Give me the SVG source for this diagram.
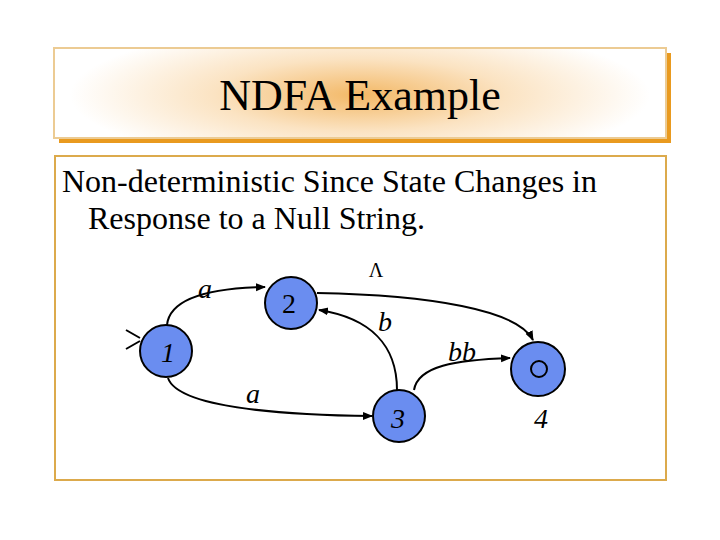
<svg xmlns="http://www.w3.org/2000/svg" width="720" height="540" viewBox="0 0 720 540">
<defs>
<radialGradient id="tg" cx="360" cy="95" r="290" gradientUnits="userSpaceOnUse" gradientTransform="translate(360 95) scale(1 0.25) translate(-360 -95)">
<stop offset="0" stop-color="#f3b866"/>
<stop offset="0.5" stop-color="#fbe3c2"/>
<stop offset="1" stop-color="#ffffff"/>
</radialGradient>
<marker id="ah" viewBox="0 0 10 10" refX="9" refY="5" markerWidth="5" markerHeight="5" orient="auto" markerUnits="strokeWidth">
<path d="M0,1 L10,5 L0,9 z" fill="#000"/>
</marker>
<style>
.edge{fill:none;stroke:#000;stroke-width:2;marker-end:url(#ah)}
.node{fill:#6a8df0;stroke:#000;stroke-width:2}
.lbl{font-family:"Liberation Serif",serif;font-style:italic;font-size:28px;fill:#000;text-anchor:middle}
.body{font-family:"Liberation Serif",serif;font-size:32px;fill:#000}
</style>
</defs>
<rect x="0" y="0" width="720" height="540" fill="#fff"/>
<g id="title">
<rect x="59" y="53" width="612" height="90" fill="#e99a1f"/>
<rect x="54" y="48" width="612" height="90" fill="url(#tg)" stroke="#eccb93" stroke-width="2"/>
<text x="360" y="110" text-anchor="middle" font-family="Liberation Serif, serif" font-size="44">NDFA Example</text>
</g>
<g id="content">
<rect x="55" y="156" width="611" height="324" fill="#fff" stroke="#dcaa4c" stroke-width="2"/>
<text class="body" x="62" y="192">Non-deterministic Since State Changes in</text>
<text class="body" x="88" y="229">Response to a Null String.</text>
</g>
<g id="connectors">
<path d="M126,330 L140,338 M126,349 L140,341" fill="none" stroke="#000" stroke-width="2"/>
<path class="edge" d="M167,325 C170,296 215,288 265,287"/>
<path class="edge" d="M168,378 C178,408 285,415 372,416"/>
<path class="edge" d="M397,390 C397,345 370,318 319,310"/>
<path class="edge" d="M317,293 C430,295 518,310 533,340"/>
<path class="edge" d="M414,390 C418,366 455,360 510,358"/>
<text class="lbl" x="205" y="298">a</text>
<text class="lbl" x="253" y="403">a</text>
<text class="lbl" x="385" y="331">b</text>
<text class="lbl" x="462" y="361">bb</text>
<text x="376" y="277" text-anchor="middle" font-family="Liberation Serif, serif" font-size="20">Λ</text>
</g>
<g id="node1">
<circle class="node" cx="166" cy="351" r="26"/>
<text class="lbl" x="168" y="362">1</text>
</g>
<g id="node2">
<circle class="node" cx="291" cy="303" r="26"/>
<text x="289" y="313" text-anchor="middle" font-family="Liberation Serif, serif" font-size="28">2</text>
</g>
<g id="node3">
<circle class="node" cx="399" cy="416" r="26"/>
<text class="lbl" x="398" y="428">3</text>
</g>
<g id="node4">
<circle class="node" cx="538" cy="369" r="27"/>
<circle cx="539" cy="369" r="8" fill="none" stroke="#000" stroke-width="2"/>
<text class="lbl" x="541" y="428">4</text>
</g>
</svg>
